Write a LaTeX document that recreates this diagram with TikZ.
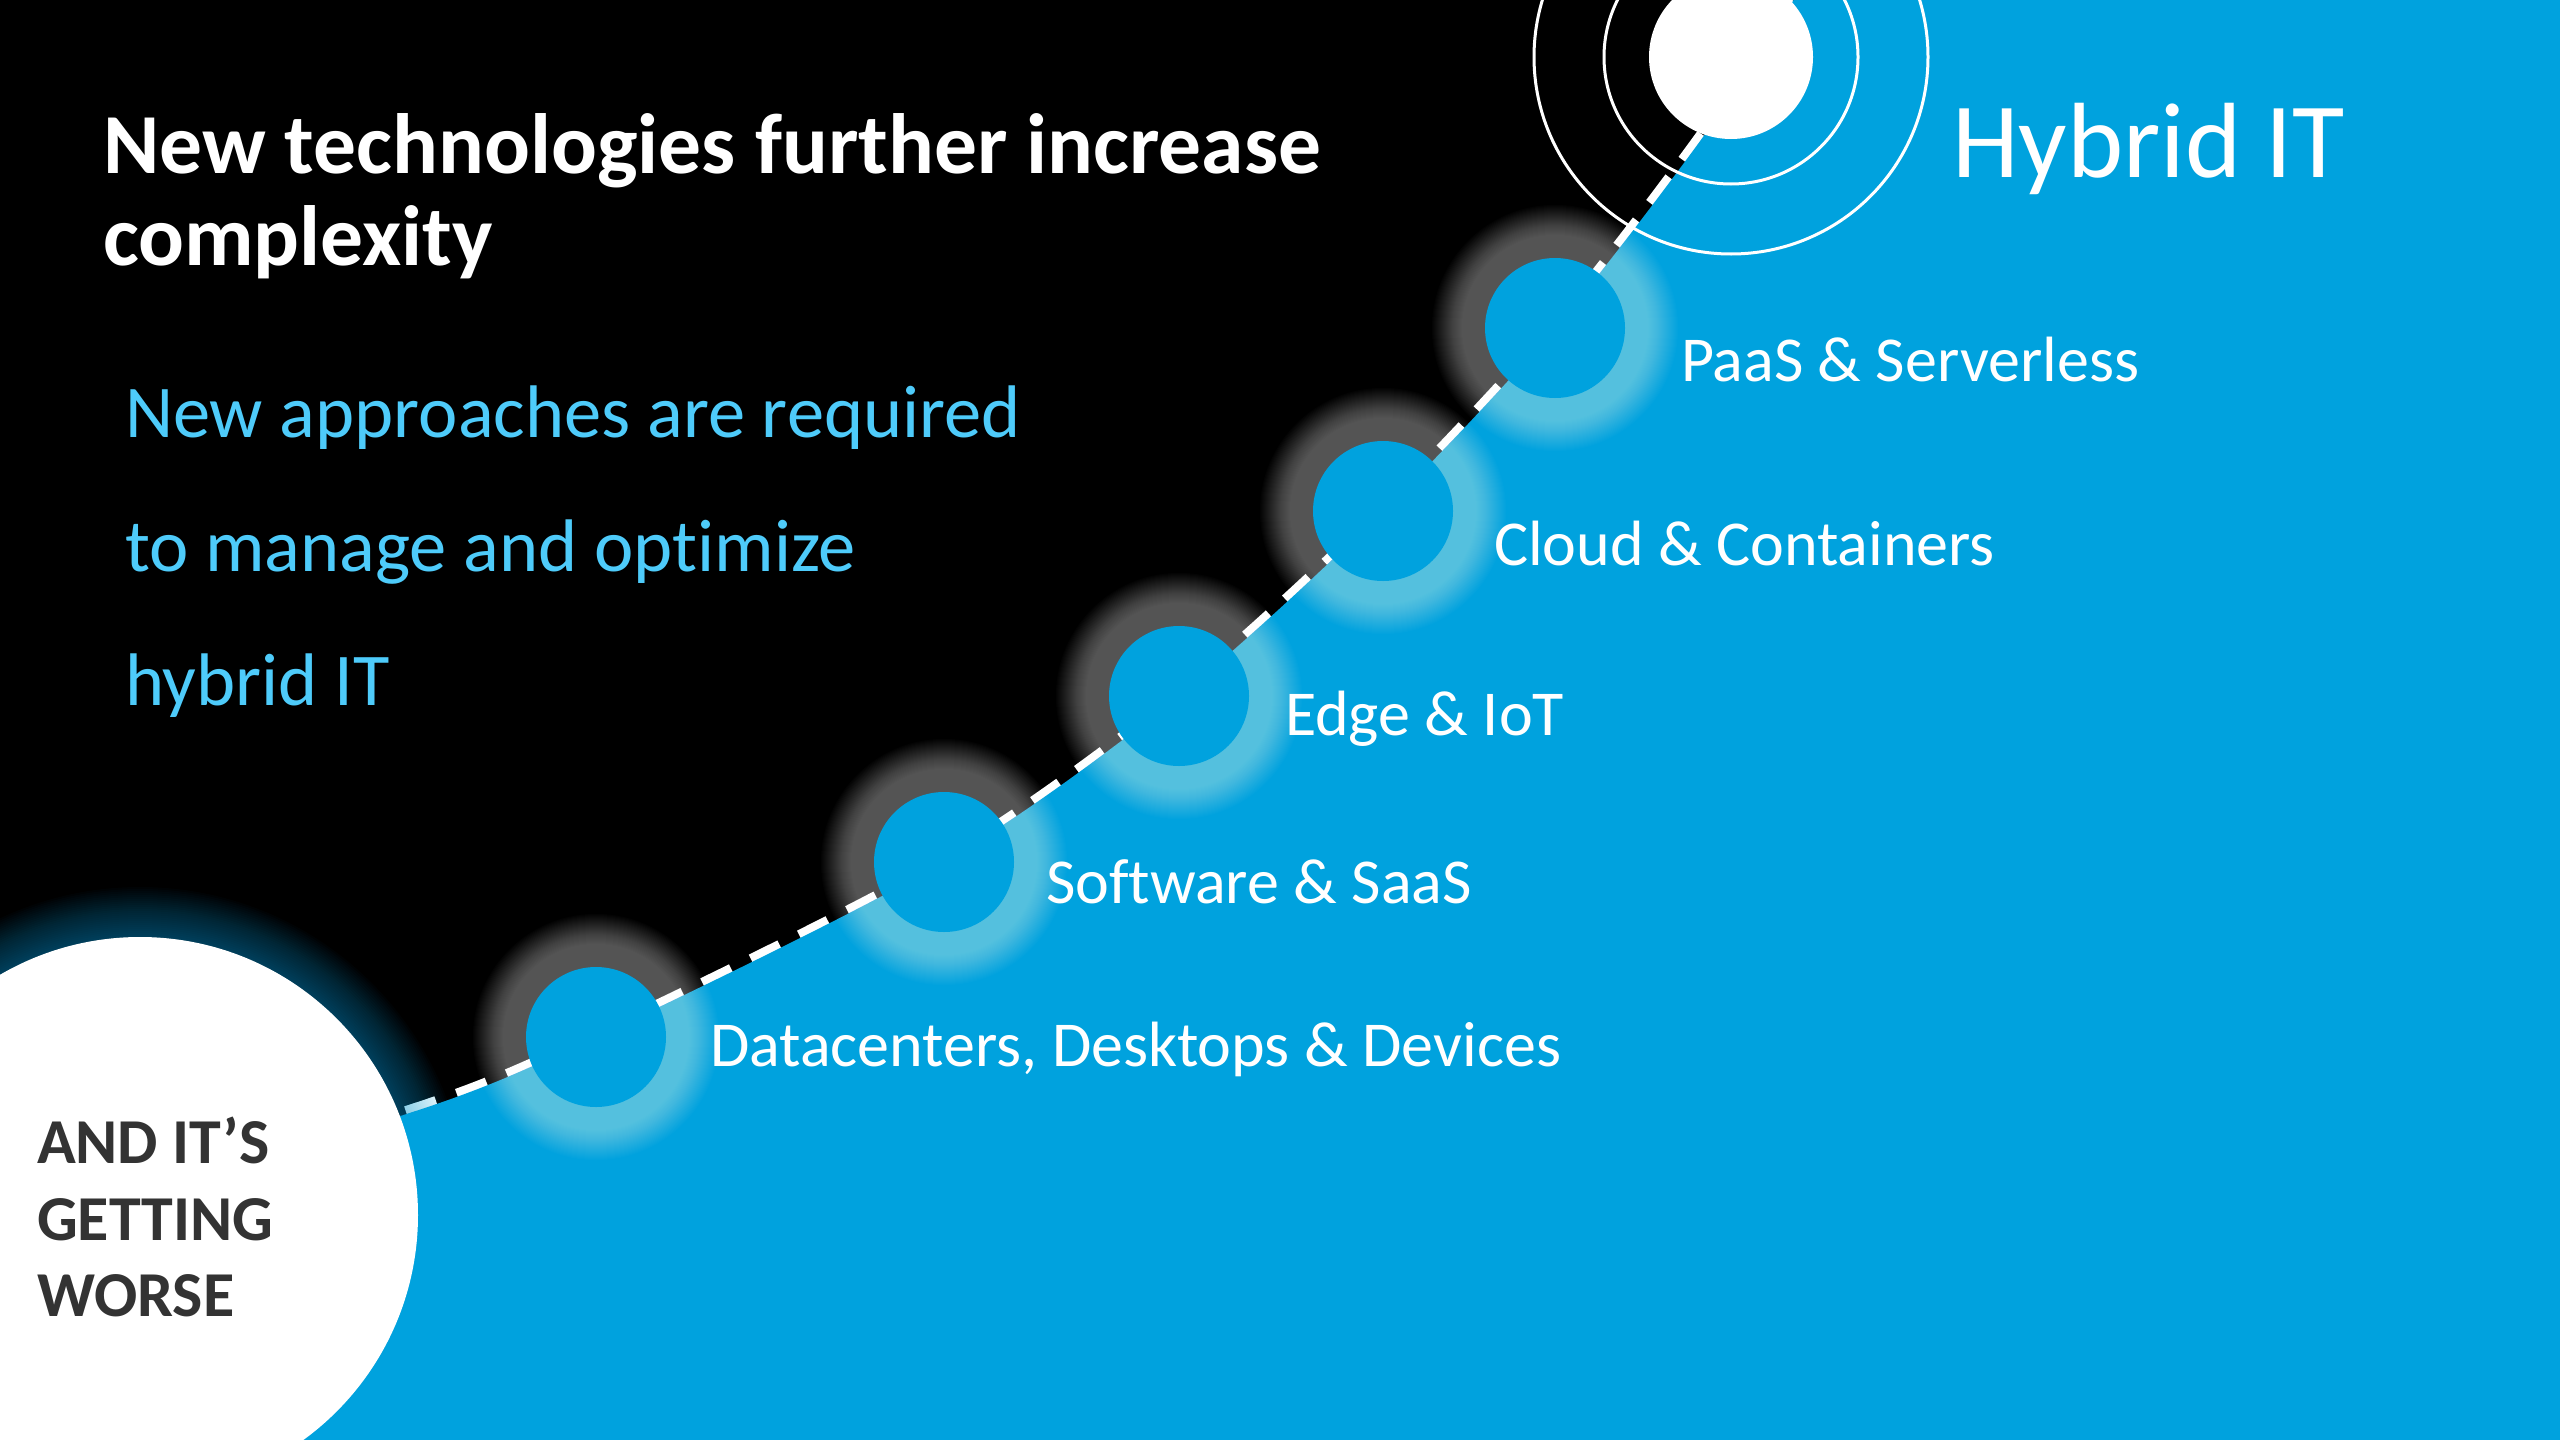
\documentclass[tikz,border=0pt]{standalone}
\usepackage{fontspec}
\setmainfont{Carlito}[Ligatures={TeX,NoCommon}]
\definecolor{hpblue}{RGB}{0,162,222}
\definecolor{subcyan}{RGB}{78,203,250}
\definecolor{darktxt}{RGB}{51,51,51}
\begin{document}
\begin{tikzpicture}[x=1pt,y=-1pt,
  txt/.style={anchor=base west, inner sep=0pt, outer sep=0pt},
  titletxt/.style={txt, text=white, font=\fontsize{85.5}{92}\selectfont\bfseries},
  subtxt/.style={txt, text=subcyan, font=\fontsize{74.5}{90}\selectfont},
  hybtxt/.style={txt, text=white, font=\fontsize{107}{120}\selectfont},
  lbl/.style={txt, text=white, font=\fontsize{64}{70}\selectfont},
  worsetxt/.style={txt, text=darktxt, font=\fontsize{64}{76}\selectfont\bfseries},
  stepcircle/.style={circle, fill=hpblue, minimum size=140pt, inner sep=0pt},
  ring/.style={draw=white, line width=3pt},
  dashline/.style={white, line width=16pt, dash pattern=on 32pt off 22pt}
]
\useasboundingbox (0,0) rectangle (2560,1440);
\fill[black] (0,0) rectangle (2560,1440);

% dashed line along the boundary
\draw[dashline] plot[smooth] coordinates {(-10,1228) (397,1117) (596,1037) (944,862) (1179,696) (1383,511) (1555,328) (1703,137) (1800,-10)};
% blue region
\fill[hpblue] plot[smooth] coordinates {(-10,1228) (397,1117) (596,1037) (944,862) (1179,696) (1383,511) (1555,328) (1703,137) (1800,-10)} -- (2570,-10) -- (2570,1450) -- (-10,1450) -- cycle;

% big white circle with blue glow
\coordinate (bigc) at (140,1215);
\foreach \r in {280,282,...,328} \fill[hpblue, opacity=0.024] (bigc) circle (\r pt);
\node[circle, fill=white, minimum size=556pt, inner sep=0pt] (big) at (bigc) {};

% step circles with glow
\coordinate (p1) at (596,1037);
\coordinate (p2) at (944,862);
\coordinate (p3) at (1179,696);
\coordinate (p4) at (1383,511);
\coordinate (p5) at (1555,328);
\foreach \i in {1,...,5} {
  \foreach \r in {93,94,...,123} \fill[white, opacity=0.0163] (p\i) circle (\r pt);
}
\foreach \i in {1,...,5} \node[stepcircle] (c\i) at (p\i) {};

% top target
\coordinate (tc) at (1731,57);
\draw[ring] (tc) circle (127pt);
\draw[ring] (tc) circle (197pt);
\node[circle, fill=white, minimum size=164pt, inner sep=0pt] (top) at (tc) {};

% texts
\node[titletxt] (t1) at (103,173) {New technologies further increase};
\node[titletxt] (t2) at (103,265) {complexity};
\node[subtxt] (s1) at (125,437) {New approaches are required};
\node[subtxt] (s2) at (125,571) {to manage and optimize};
\node[subtxt] (s3) at (125,705) {hybrid IT};
\node[hybtxt] (hyb) at (1952,177) {Hybrid IT};
\node[lbl] (l5) at (1681,381) {PaaS \& Serverless};
\node[lbl] (l4) at (1494,565) {Cloud \& Containers};
\node[lbl] (l3) at (1285,735) {Edge \& IoT};
\node[lbl] (l2) at (1046,903) {Software \& SaaS};
\node[lbl] (l1) at (710,1066) {Datacenters, Desktops \& Devices};
\node[worsetxt] (w1) at (37,1163) {AND IT’S};
\node[worsetxt] (w2) at (37,1240) {GETTING};
\node[worsetxt] (w3) at (37,1316) {WORSE};
\end{tikzpicture}
\end{document}
